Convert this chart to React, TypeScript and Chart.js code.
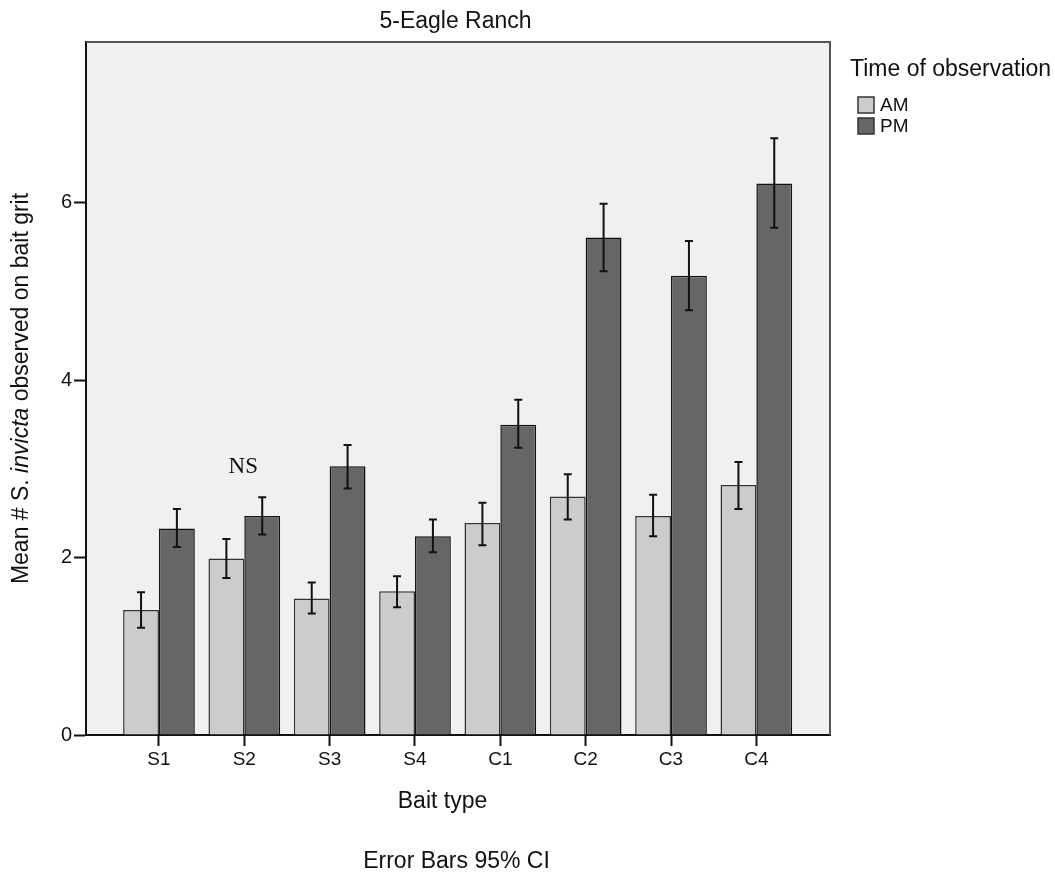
import { useEffect, useRef } from 'react';
import { Chart, registerables } from 'chart.js';

Chart.register(...registerables);

const categories = ['S1', 'S2', 'S3', 'S4', 'C1', 'C2', 'C3', 'C4'];
const seriesNames = ['AM', 'PM'];
const amMeans = [1.41, 1.99, 1.54, 1.62, 2.39, 2.69, 2.47, 2.82];
const amLow = [1.21, 1.77, 1.37, 1.44, 2.14, 2.43, 2.24, 2.55];
const amHigh = [1.61, 2.21, 1.72, 1.79, 2.62, 2.94, 2.71, 3.08];
const pmMeans = [2.33, 2.47, 3.03, 2.24, 3.5, 5.61, 5.18, 6.22];
const pmLow = [2.12, 2.26, 2.78, 2.06, 3.24, 5.23, 4.79, 5.72];
const pmHigh = [2.55, 2.68, 3.27, 2.43, 3.78, 5.99, 5.57, 6.73];
const yTicks = [0, 2, 4, 6];

const titleText = '5-Eagle Ranch';
const xTitle = 'Bait type';
const footText = 'Error Bars 95% CI';
const legendTitle = 'Time of observation';
const nsLabel = 'NS';
const nsCategory = 1;
const nsValue = 2.95;

const SANS = '"Liberation Sans", Arial, sans-serif';
const SERIF = '"Liberation Serif", "Times New Roman", serif';

const lows = [amLow, pmLow];
const highs = [amHigh, pmHigh];

const decorPlugin = {
  id: 'decor',
  beforeDraw(chart: any) {
    const { ctx, chartArea } = chart;
    ctx.save();
    ctx.fillStyle = '#ffffff';
    ctx.fillRect(0, 0, chart.width, chart.height);
    ctx.fillStyle = '#f0f0f0';
    ctx.fillRect(chartArea.left, chartArea.top, chartArea.right - chartArea.left, chartArea.bottom - chartArea.top);
    ctx.restore();
  },
  afterDatasetsDraw(chart: any) {
    const { ctx } = chart;
    const yScale = chart.scales.y;
    ctx.save();
    ctx.strokeStyle = '#111';
    ctx.lineWidth = 2;
    chart.data.datasets.forEach((_: any, di: number) => {
      const meta = chart.getDatasetMeta(di);
      meta.data.forEach((bar: any, i: number) => {
        const x = bar.x;
        const yh = yScale.getPixelForValue(highs[di][i]);
        const yl = yScale.getPixelForValue(lows[di][i]);
        ctx.beginPath();
        ctx.moveTo(x, yh);
        ctx.lineTo(x, yl);
        ctx.moveTo(x - 4, yh);
        ctx.lineTo(x + 4, yh);
        ctx.moveTo(x - 4, yl);
        ctx.lineTo(x + 4, yl);
        ctx.stroke();
      });
    });
    ctx.restore();
  },
  afterDraw(chart: any) {
    const { ctx, chartArea } = chart;
    const xScale = chart.scales.x;
    const yScale = chart.scales.y;
    ctx.save();
    // frame top & right
    ctx.strokeStyle = '#555';
    ctx.lineWidth = 2;
    ctx.beginPath();
    ctx.moveTo(chartArea.left, chartArea.top);
    ctx.lineTo(chartArea.right, chartArea.top);
    ctx.lineTo(chartArea.right, chartArea.bottom);
    ctx.stroke();

    ctx.fillStyle = '#111';
    // title
    ctx.font = `23px ${SANS}`;
    ctx.textAlign = 'center';
    ctx.textBaseline = 'alphabetic';
    ctx.fillText(titleText, 455.5, 28);
    // x title and footnote
    ctx.fillText(xTitle, 442.5, 808);
    ctx.fillText(footText, 456.5, 868);
    // legend title
    ctx.textAlign = 'left';
    ctx.fillText(legendTitle, 850, 76);
    // legend items
    const cols = chart.data.datasets.map((d: any) => d.backgroundColor);
    ctx.font = `19px ${SANS}`;
    ctx.textBaseline = 'middle';
    seriesNames.forEach((name, i) => {
      const top = 97 + i * 21;
      ctx.fillStyle = cols[i];
      ctx.fillRect(858, top, 16, 16);
      ctx.strokeStyle = '#333';
      ctx.lineWidth = 1.5;
      ctx.strokeRect(858, top, 16, 16);
      ctx.fillStyle = '#111';
      ctx.fillText(name, 880, top + 8.5);
    });
    // NS annotation
    ctx.font = `23px ${SERIF}`;
    ctx.textAlign = 'center';
    ctx.textBaseline = 'alphabetic';
    ctx.fillText(nsLabel, xScale.getPixelForValue(nsCategory) - 1, yScale.getPixelForValue(nsValue));
    // y title with italic species name
    const parts = [
      { t: 'Mean # S. ', f: `23px ${SANS}` },
      { t: 'invicta', f: `italic 23px ${SANS}` },
      { t: ' observed on bait grit', f: `23px ${SANS}` },
    ];
    let total = 0;
    parts.forEach((p) => {
      ctx.font = p.f;
      total += ctx.measureText(p.t).width;
    });
    ctx.translate(28, (chartArea.top + chartArea.bottom) / 2);
    ctx.rotate(-Math.PI / 2);
    ctx.textAlign = 'left';
    let cx = -total / 2;
    parts.forEach((p) => {
      ctx.font = p.f;
      ctx.fillText(p.t, cx, 0);
      cx += ctx.measureText(p.t).width;
    });
    ctx.restore();
  },
};

export default function App() {
  const ref = useRef<HTMLCanvasElement | null>(null);
  useEffect(() => {
    if (!ref.current) return;
    const chart = new Chart(ref.current, {
      type: 'bar',
      data: {
        datasets: [
          {
            label: seriesNames[0],
            data: amMeans.map((v, i) => ({ x: i, y: v })),
            backgroundColor: '#cccccc',
            borderColor: '#333333',
            borderWidth: 1.5,
            categoryPercentage: 0.84,
            barPercentage: 1,
          },
          {
            label: seriesNames[1],
            data: pmMeans.map((v, i) => ({ x: i, y: v })),
            backgroundColor: '#666666',
            borderColor: '#111111',
            borderWidth: 1.5,
            categoryPercentage: 0.84,
            barPercentage: 1,
          },
        ],
      },
      options: {
        animation: false,
        responsive: true,
        maintainAspectRatio: false,
        devicePixelRatio: 1,
        layout: { padding: { left: 0, top: 42, right: 225, bottom: 0 } },
        plugins: { legend: { display: false }, tooltip: { enabled: false }, title: { display: false } },
        scales: {
          x: {
            type: 'linear',
            min: -0.855,
            max: 7.863,
            offset: false,
            bounds: 'data',
            grid: { display: true, drawOnChartArea: false, drawTicks: true, tickLength: 11, tickColor: '#111', tickWidth: 2, offset: false },
            border: { display: true, color: '#111', width: 2 },
            ticks: {
              autoSkip: false,
              maxRotation: 0,
              padding: 2,
              color: '#111',
              font: { family: SANS, size: 19 },
              callback: (v: any) => categories[Math.round(Number(v))] ?? '',
            },
            afterBuildTicks: (s: any) => {
              s.ticks = categories.map((_, i) => ({ value: i }));
            },
            afterFit: (s: any) => {
              s.height = 138;
            },
          },
          y: {
            min: 0,
            max: 7.815,
            bounds: 'data',
            grid: { display: true, drawOnChartArea: false, drawTicks: true, tickLength: 12, tickColor: '#111', tickWidth: 2 },
            border: { display: true, color: '#111', width: 2 },
            ticks: {
              padding: 2,
              color: '#111',
              font: { family: SANS, size: 20 },
              callback: (v: any) => String(v),
            },
            afterBuildTicks: (s: any) => {
              s.ticks = yTicks.map((v) => ({ value: v }));
            },
            afterFit: (s: any) => {
              s.width = 86;
            },
          },
        },
      },
      plugins: [decorPlugin],
    } as any);
    return () => chart.destroy();
  }, []);
  return (
    <div style={{ position: 'fixed', left: 0, top: 0, width: 1055, height: 873, background: '#fff' }}>
      <canvas ref={ref} />
    </div>
  );
}
